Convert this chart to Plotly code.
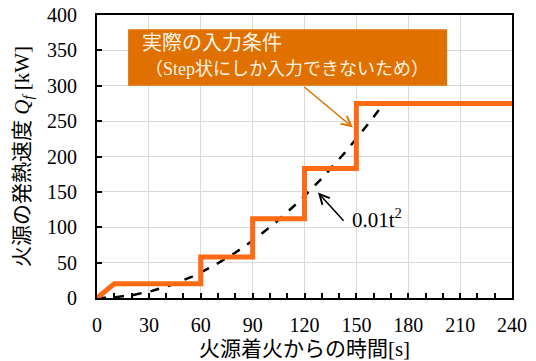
import numpy as np
import plotly.graph_objects as go

# Step input actually applied: (time [s], heat release rate [kW])
step_times = [0, 10, 60, 60, 90, 90, 120, 120, 150, 150, 240]
step_values = [0, 20, 20, 58, 58, 112, 112, 183, 183, 275, 275]

# Reference t-squared fire: Q = alpha * t^2
alpha = 0.01
t_end = 166
t_curve = np.linspace(0, t_end, 200)
q_curve = alpha * t_curve ** 2

x_ticks = [0, 30, 60, 90, 120, 150, 180, 210, 240]
y_ticks = [0, 50, 100, 150, 200, 250, 300, 350, 400]

FONT = "Liberation Serif, Times New Roman, Noto Sans CJK JP, serif"

fig = go.Figure()

fig.add_trace(go.Scatter(
    x=t_curve, y=q_curve, mode="lines",
    line=dict(color="black", width=2.5, dash="dash"),
    showlegend=False, hoverinfo="skip",
))
fig.add_trace(go.Scatter(
    x=step_times, y=step_values, mode="lines",
    line=dict(color="#ff6a13", width=5),
    showlegend=False, hoverinfo="skip",
))

# Callout box
fig.add_shape(type="rect", xref="x", yref="y",
              x0=18, x1=202.5, y0=300, y1=380,
              fillcolor="#e07000", line=dict(width=0), layer="above")

fig.add_annotation(x=25, y=361, xref="x", yref="y", xanchor="left", yanchor="middle",
                   text="実際の入力条件", showarrow=False,
                   font=dict(family=FONT, size=20, color="#fff3e6"))
fig.add_annotation(x=110, y=324, xref="x", yref="y", xanchor="center", yanchor="middle",
                   text="（Step状にしか入力できないため）", showarrow=False,
                   font=dict(family=FONT, size=18, color="#fff3e6"))

# Orange pointer from the box to the step line
fig.add_annotation(x=148, y=241, ax=119, ay=300, xref="x", yref="y",
                   axref="x", ayref="y", text="", showarrow=True,
                   arrowhead=5, arrowsize=1.3, arrowwidth=1.5, arrowcolor="#e07000")

# Pointer to the t-squared curve
fig.add_annotation(x=127.8, y=149, ax=143.4, ay=107, xref="x", yref="y",
                   axref="x", ayref="y", text="", showarrow=True,
                   arrowhead=5, arrowsize=1.3, arrowwidth=1.5, arrowcolor="black")
fig.add_annotation(x=146.5, y=113, xref="x", yref="y", xanchor="left", yanchor="middle",
                   text="0.01t<sup>2</sup>", showarrow=False,
                   font=dict(family=FONT, size=21, color="black"))

axis_common = dict(
    showline=True, linecolor="black", linewidth=2, mirror=True,
    showgrid=True, gridcolor="#d9d9d9", gridwidth=1,
    zeroline=False, ticks="inside", ticklen=5, tickcolor="black", tickwidth=1.5,
    tickfont=dict(family=FONT, size=20, color="black"),
    automargin=False,
)

fig.update_xaxes(
    range=[0, 240], tickvals=x_ticks, ticktext=[str(v) for v in x_ticks],
    ticklabelstandoff=8,
    minor=dict(dtick=10, ticks="inside", ticklen=5, tickcolor="black", tickwidth=1.5, showgrid=False),
    title=dict(text="火源着火からの時間[s]", font=dict(family=FONT, size=21, color="black"), standoff=8),
    **axis_common,
)
fig.update_yaxes(
    range=[0, 400], tickvals=y_ticks, ticktext=[str(v) for v in y_ticks],
    ticklabelstandoff=14,
    title=dict(text="火源の発熱速度 <i>Q<sub>f</sub></i> [kW]",
               font=dict(family=FONT, size=21, color="black"), standoff=12),
    **axis_common,
)

fig.update_layout(
    width=536, height=361,
    margin=dict(l=97, r=24, t=15, b=63),
    paper_bgcolor="white", plot_bgcolor="white",
    showlegend=False,
)

fig.write_html("out.html")
